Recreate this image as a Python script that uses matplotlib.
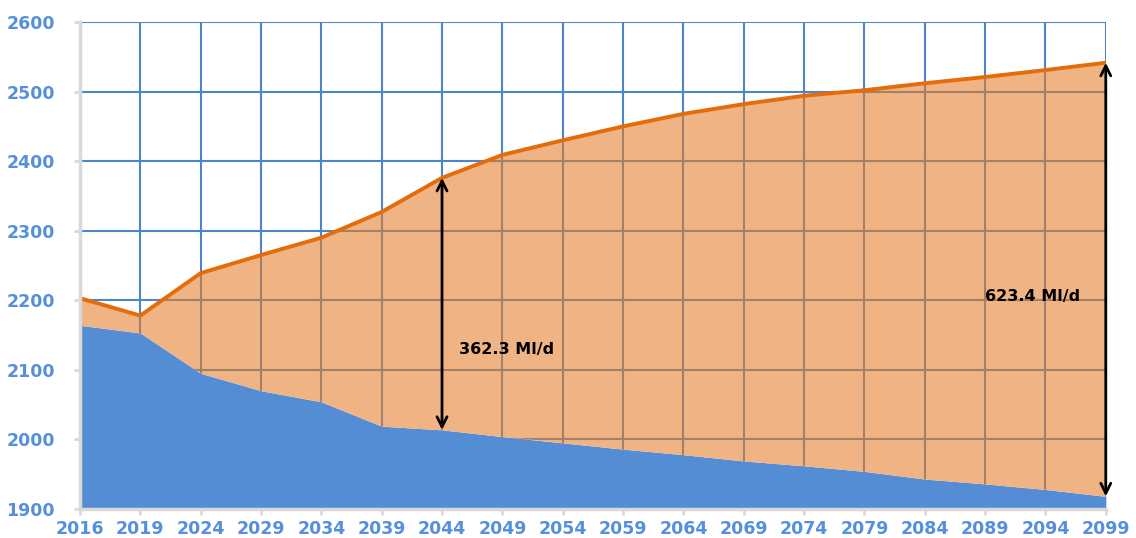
import matplotlib.pyplot as plt
import numpy as np

# Años del horizonte de planificación
anios = ['2016', '2019', '2024', '2029', '2034', '2039', '2044', '2049', '2054',
         '2059', '2064', '2069', '2074', '2079', '2084', '2089', '2094', '2099']

# Demanda (Ml/d)
demanda = [2203, 2178, 2239, 2265, 2290, 2327, 2376.0, 2409, 2430,
           2450, 2468, 2482, 2494, 2502, 2512, 2521, 2531, 2541.5]

# Oferta disponible (Ml/d)
oferta = [2164, 2153, 2095, 2070, 2054, 2019, 2013.7, 2004, 1995,
          1986, 1978, 1969, 1962, 1954, 1943, 1936, 1928, 1918.1]

x = np.arange(len(anios))
demanda = np.array(demanda)
oferta = np.array(oferta)

azul_txt = '#5690dc'

fig = plt.figure(figsize=(11.36, 5.38), dpi=100)
ax = fig.add_axes([0.0704, 0.054, 0.903, 0.905])

# Rejilla azul de fondo
for xi in x:
    ax.axvline(xi, color='#4f85c8', lw=1.5, zorder=0)
for yi in range(2000, 2601, 100):
    ax.axhline(yi, color='#4f85c8', lw=1.5, zorder=0)

ax.fill_between(x, 1900, oferta, color='#548dd4', lw=0, zorder=1)
deficit = ax.fill_between(x, oferta, demanda, color='#f0b383', lw=0, zorder=1)

# Rejilla marrón sólo dentro del área de déficit
zona = deficit.get_paths()[0]
for xi in x:
    l = ax.axvline(xi, color='#a3806a', lw=1.5, zorder=2)
    l.set_clip_path(zona, ax.transData)
for yi in range(2000, 2601, 100):
    l = ax.axhline(yi, color='#a3806a', lw=1.5, zorder=2)
    l.set_clip_path(zona, ax.transData)

ax.plot(x, demanda, color='#e46c0a', lw=2.8, zorder=3, solid_capstyle='round')

# Flechas de déficit
i1 = anios.index('2044')
i2 = anios.index('2099')
flecha = dict(arrowstyle='<->', lw=2, color='black', mutation_scale=18,
              shrinkA=0, shrinkB=0)
ax.annotate('', xy=(i1, oferta[i1]), xytext=(i1, demanda[i1]),
            arrowprops=flecha, zorder=4)
ax.annotate('', xy=(i2, oferta[i2]), xytext=(i2, demanda[i2]),
            arrowprops=flecha, zorder=4)
ax.text(i1 + 0.28, 2129, f'{demanda[i1] - oferta[i1]:.1f} Ml/d',
        fontsize=11.5, fontweight='bold', family='DejaVu Sans',
        va='center', ha='left', zorder=5)
ax.text(i2 - 2.0, 2206, f'{demanda[i2] - oferta[i2]:.1f} Ml/d',
        fontsize=11.5, fontweight='bold', family='DejaVu Sans',
        va='center', ha='left', zorder=5)

ax.set_xlim(0, len(anios) - 1)
ax.set_ylim(1900, 2600)
ax.set_xticks(x)
ax.set_xticklabels(anios)
ax.set_yticks(range(1900, 2601, 100))

for lab in ax.get_xticklabels() + ax.get_yticklabels():
    lab.set_color(azul_txt)
    lab.set_fontweight('bold')
    lab.set_fontsize(12.5)
    lab.set_family('DejaVu Sans')

ax.spines['top'].set_visible(False)
ax.spines['right'].set_visible(False)
ax.spines['left'].set_color('#d9d9d9')
ax.spines['bottom'].set_color('#d9d9d9')
ax.spines['left'].set_linewidth(2.5)
ax.spines['bottom'].set_linewidth(2.5)
ax.spines['left'].set_zorder(6)
ax.spines['bottom'].set_zorder(6)
ax.tick_params(axis='both', color='#d9d9d9', width=2, length=4)
ax.tick_params(axis='x', pad=4)
ax.tick_params(axis='y', pad=14)

plt.savefig('out.png', dpi=100)
